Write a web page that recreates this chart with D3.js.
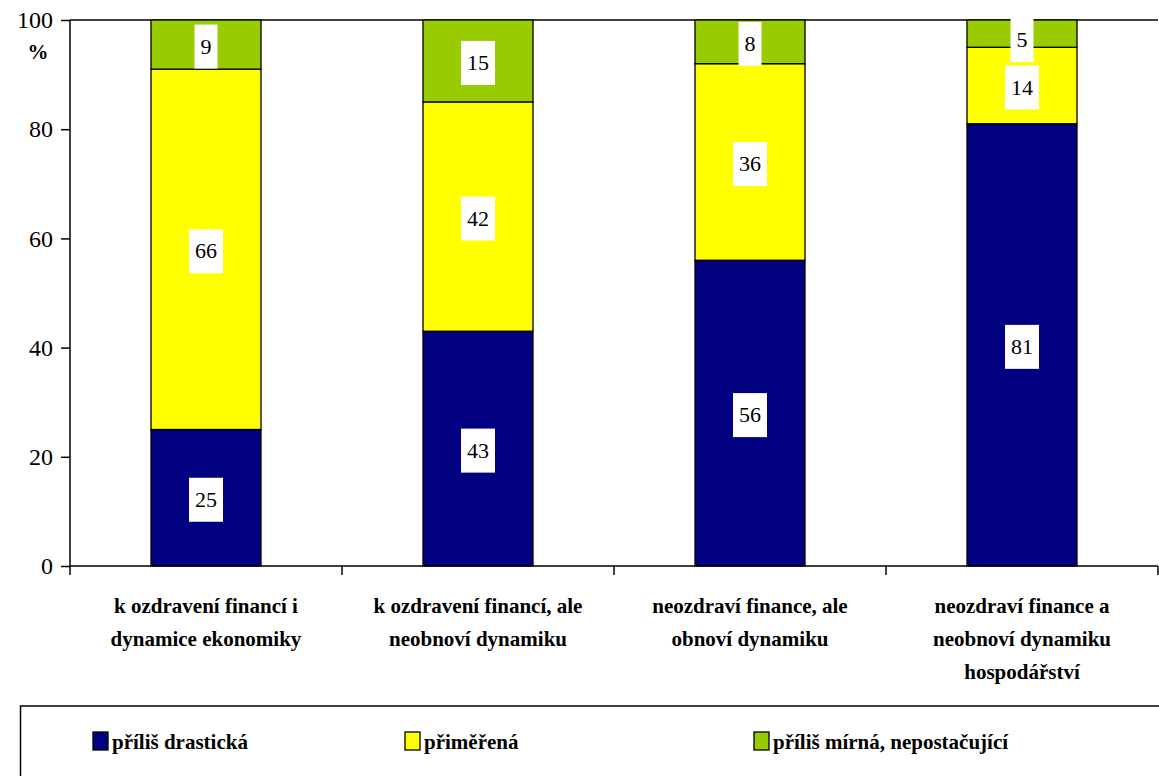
<!DOCTYPE html>
<html><head><meta charset="utf-8">
<script src="https://cdn.jsdelivr.net/npm/d3@7"></script>
<style>text, tspan { font-family: "Liberation Serif", "Times New Roman", Tinos, serif !important; }</style>
</head><body style="margin:0"><svg id="c" width="1159" height="776"></svg>
<script>
const categories = [
  ["k ozdravení financí i", "dynamice ekonomiky"],
  ["k ozdravení financí, ale", "neobnoví dynamiku"],
  ["neozdraví finance, ale", "obnoví dynamiku"],
  ["neozdraví finance a", "neobnoví dynamiku", "hospodářství"]
];
const seriesNames = ["příliš drastická", "přiměřená", "příliš mírná, nepostačující"];
const drastic = [25, 43, 56, 81];
const adequate = [66, 42, 36, 14];
const mild = [9, 15, 8, 5];
const yTicks = [0, 20, 40, 60, 80, 100];
const colors = ["#000080", "#FFFF00", "#99CC00"];

const FF = "Liberation Serif";
const svg = d3.select("#c").style("display", "block");
const L = 70, R = 1158, T = 20, B = 566;
const x = d3.scaleBand().domain(d3.range(categories.length)).range([L, R]).paddingInner(0).paddingOuter(0);
const y = d3.scaleLinear().domain([0, 100]).range([B, T]);
const bw = 110;

const stackData = categories.map((c, i) => ({i, a: drastic[i], b: adequate[i], c: mild[i]}));
const stacked = d3.stack().keys(["a", "b", "c"])(stackData);

svg.append("line").attr("x1", L).attr("x2", R).attr("y1", y(100)).attr("y2", y(100)).attr("stroke", "#000").attr("stroke-width", 1.5);

stacked.forEach((s, si) => {
  svg.append("g").selectAll("rect").data(s).join("rect")
    .attr("x", (d, i) => x(i) + x.bandwidth() / 2 - bw / 2)
    .attr("width", bw)
    .attr("y", d => y(d[1]))
    .attr("height", d => y(d[0]) - y(d[1]))
    .attr("fill", colors[si]).attr("stroke", "#000").attr("stroke-width", 1.3);
});

stacked.forEach((s, si) => {
  s.forEach((d, i) => {
    const v = d[1] - d[0];
    const cx = x(i) + x.bandwidth() / 2;
    let cy = y((d[0] + d[1]) / 2) + 2;
    const t = String(v);
    const w = t.length * 11 + 12, h = 44;
    let top = cy - h / 2;
    if (top < T - 2) { top = T - 2; cy = top + h / 2; }
    svg.append("rect").attr("x", cx - w / 2).attr("y", top).attr("width", w).attr("height", h).attr("fill", "#fff");
    svg.append("text").attr("font-family", FF).attr("x", cx).attr("y", cy + 7).attr("text-anchor", "middle")
      .attr("font-size", 22).text(t);
  });
});

const ya = svg.append("g").attr("transform", `translate(${L},0)`)
  .call(d3.axisLeft(y).tickValues(yTicks).tickSize(9).tickPadding(8));
ya.attr("font-family", FF).attr("font-size", 24);
ya.select(".domain").attr("stroke-width", 1.5).attr("d", `M0,${B}V${T}`);
ya.selectAll(".tick line").attr("stroke-width", 1.5);
ya.selectAll("text").attr("fill", "#000");

svg.append("text").attr("font-family", FF).attr("x", 38).attr("y", 59).attr("text-anchor", "middle")
  .attr("font-weight", "bold").attr("font-size", 21).text("%");

const xa = svg.append("g").attr("transform", `translate(0,${B})`);
xa.append("line").attr("x1", L).attr("x2", R).attr("stroke", "#000").attr("stroke-width", 1.5);
const bounds = d3.range(categories.length + 1).map(i => i < categories.length ? x(i) : R);
xa.selectAll("line.tk").data(bounds).join("line").attr("class", "tk")
  .attr("x1", d => d).attr("x2", d => d).attr("y1", 0).attr("y2", 9).attr("stroke", "#000").attr("stroke-width", 1.5);
categories.forEach((lines, i) => {
  const tx = svg.append("text").attr("font-family", FF).attr("x", x(i) + x.bandwidth() / 2).attr("y", 613)
    .attr("text-anchor", "middle").attr("font-weight", "bold").attr("font-size", 21);
  lines.forEach((ln, k) => tx.append("tspan").attr("x", x(i) + x.bandwidth() / 2).attr("dy", k === 0 ? 0 : 33).text(ln));
});

svg.append("rect").attr("x", 20.5).attr("y", 706).attr("width", 1150).attr("height", 100).attr("fill", "none").attr("stroke", "#000").attr("stroke-width", 1.5);
const legX = [93, 405, 754];
seriesNames.forEach((n, i) => {
  svg.append("rect").attr("x", legX[i]).attr("y", 732).attr("width", 15).attr("height", 18).attr("fill", colors[i]).attr("stroke", "#000").attr("stroke-width", 1.3);
  svg.append("text").attr("font-family", FF).attr("x", legX[i] + 19).attr("y", 749).attr("font-weight", "bold").attr("font-size", 21).text(n);
});
</script></body></html>
